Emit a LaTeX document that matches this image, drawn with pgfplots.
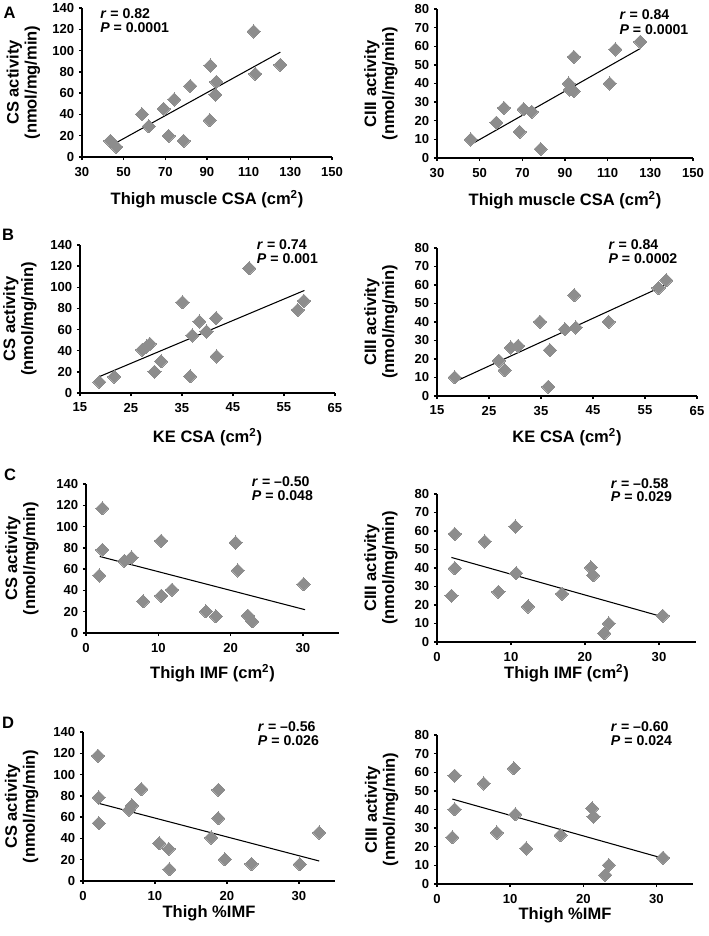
\documentclass[border=0pt]{standalone}
\usepackage{fontspec}
\setmainfont{Liberation Sans}
\usepackage{pgfplots}
\pgfplotsset{compat=1.18}
\definecolor{diam}{RGB}{141,141,141}
\pgfplotsset{
  panel/.style={
    scale only axis, anchor=south west,
    axis lines*=left,
    axis line style={line width=1.1pt,black},
    every tick/.style={line width=1.1pt,black},
    tick align=outside, major tick length=2.4pt,
    tick label style={font=\fontsize{9.8}{11}\selectfont\bfseries},
    /pgf/number format/assume math mode=true,
    xticklabel style={yshift=-1.5pt},
    label style={font=\fontsize{12.4}{13.5}\selectfont\bfseries},
    ymin=0, clip=false,
  },
  dots/.style={only marks, mark=square*, mark size=3.5pt,
    mark options={rotate=45, fill=diam, draw=diam, line width=0pt}},
  fit/.style={black, line width=0.8pt, no marks},
}
\newcommand\ann[3]{\node[anchor=west,inner sep=0pt,font=\fontsize{10.6}{12}\selectfont\bfseries] at ({#1*0.75pt},{(936-#2)*0.75pt}) {#3};}
\newcommand\letter[3]{\node[inner sep=0pt,font=\fontsize{12.4}{13}\selectfont\bfseries] at ({#1*0.75pt},{(936-#2)*0.75pt}) {#3};}
\newcommand\rr{\textbf{\textit{r}}}
\newcommand\PP{\textbf{\textit{P}}}
\begin{document}
\begin{tikzpicture}
\useasboundingbox (0,0) rectangle (531.75pt,702pt);
% ---------- A left
\begin{axis}[panel, width=187.5pt, height=111.75pt, at={(61.5pt,584.25pt)},
  xmin=30, xmax=150, xtick={30,50,...,150}, ymax=140, ytick={0,20,...,140},
  xlabel={Thigh muscle CSA (cm\textsuperscript{2})}, ylabel={CS activity\\(nmol/mg/min)},
  xlabel style={at={([yshift=-31.5pt]axis description cs:0.5,0)}, anchor=center},
  ylabel style={align=center, at={([xshift=-43.9pt]axis description cs:0,0.5)}, anchor=center}]
\addplot[dots] coordinates {(43.6,15.1)(46.5,9.4)(58.8,40.3)(62,28.9)(69.2,45.3)(71.6,19.8)(74.3,54.1)(78.8,15.1)(82,66.7)(91.6,85.9)(91.3,34.6)(94.5,70.5)(94,58.5)(112.4,118)(113.2,78)(125.2,86.5)};
\addplot[fit] coordinates {(43.6,10.4)(125.2,98.5)};
\end{axis}
% ---------- A right
\begin{axis}[panel, width=192pt, height=111.75pt, at={(327.75pt,583.5pt)},
  xmin=30, xmax=150, xtick={30,50,...,150}, ymax=80, ytick={0,10,...,80},
  xlabel={Thigh muscle CSA (cm\textsuperscript{2})}, ylabel={CIII activity\\(nmol/mg/min)},
  xlabel style={at={([yshift=-31.5pt]axis description cs:0.5,0)}, anchor=center},
  ylabel style={align=center, at={([xshift=-42pt]axis description cs:0,0.5)}, anchor=center}]
\addplot[dots] coordinates {(45.8,9.9)(57.8,19)(61.4,26.9)(68.75,14)(70.6,26.2)(74.4,24.8)(78.6,4.8)(91.7,40)(92.2,36.8)(94.1,35.9)(94.2,54.3)(111,40)(113.6,58.3)(125.3,62.4)};
\addplot[fit] coordinates {(45.8,7.2)(125.3,58.8)};
\end{axis}
% ---------- B left
\begin{axis}[panel, width=191.25pt, height=111pt, at={(60pt,407.25pt)},
  xmin=15, xmax=65, xtick={15,25,...,65}, ymax=140, ytick={0,20,...,140},
  xlabel={KE CSA (cm\textsuperscript{2})}, ylabel={CS activity\\(nmol/mg/min)},
  xlabel style={at={([yshift=-33pt]axis description cs:0.5,0)}, anchor=center},
  ylabel style={align=center, at={([xshift=-45pt]axis description cs:0,0.5)}, anchor=center}]
\addplot[dots] coordinates {(18.8,10.4)(21.7,15.4)(27.2,40.9)(28.1,44)(28.7,46.6)(29.6,20.1)(30.9,29.9)(35.1,85.9)(36.6,15.7)(37,54.4)(38.4,67.6)(39.8,58.2)(41.7,70.8)(41.8,34.6)(48.2,118)(57.7,78.6)(58.9,87.1)};
\addplot[fit] coordinates {(18.8,15.5)(59,97)};
\end{axis}
% ---------- B right
\begin{axis}[panel, width=195pt, height=111pt, at={(327.75pt,405pt)},
  xmin=15, xmax=65, xtick={15,25,...,65}, ymax=80, ytick={0,10,...,80},
  xlabel={KE CSA (cm\textsuperscript{2})}, ylabel={CIII activity\\(nmol/mg/min)},
  xlabel style={at={([yshift=-31.1pt]axis description cs:0.5,0)}, anchor=center},
  ylabel style={align=center, at={([xshift=-42pt]axis description cs:0,0.5)}, anchor=center}]
\addplot[dots] coordinates {(18.4,10.1)(26.9,19.1)(28,14)(29.2,26.2)(30.6,27.1)(34.8,40.1)(36.4,5)(36.7,24.8)(39.6,36.1)(41.4,54.5)(41.7,37)(48,40.1)(57.6,58.4)(59.1,62.6)};
\addplot[fit] coordinates {(18.4,7.7)(59.1,60.2)};
\end{axis}
% ---------- C left
\begin{axis}[panel, width=189.75pt, height=111.75pt, at={(64.5pt,227.25pt)},
  xmin=0, xmax=35, xtick={0,10,20,30}, ymax=140, ytick={0,20,...,140},
  xlabel={Thigh IMF (cm\textsuperscript{2})}, ylabel={CS activity\\(nmol/mg/min)},
  xlabel style={at={([yshift=-30.4pt]axis description cs:0.5,0)}, anchor=center},
  ylabel style={align=center, at={([xshift=-48pt]axis description cs:0,0.5)}, anchor=center}]
\addplot[dots] coordinates {(1.84,54)(2.26,117.2)(2.26,78.1)(5.3,67.8)(6.3,70.9)(7.9,29.7)(10.4,86.6)(10.4,35)(11.9,40.6)(16.6,20.3)(17.97,15.6)(20.7,85)(21,58.8)(22.4,16.3)(23,10.9)(30.1,45.9)};
\addplot[fit] coordinates {(1.9,71.9)(30.3,21.9)};
\end{axis}
% ---------- C right
\begin{axis}[panel, width=194.25pt, height=111pt, at={(327.75pt,220.5pt)},
  xmin=0, xmax=35, xtick={0,10,20,30}, ymax=80, ytick={0,10,...,80},
  xlabel={Thigh IMF (cm\textsuperscript{2})}, ylabel={CIII activity\\(nmol/mg/min)},
  xlabel style={at={([yshift=-23.6pt]axis description cs:0.5,0)}, anchor=center},
  ylabel style={align=center, at={([xshift=-42pt]axis description cs:0,0.5)}, anchor=center}]
\addplot[dots] coordinates {(1.95,25)(2.4,58.4)(2.4,39.9)(6.45,54.3)(8.3,27.1)(10.6,62.4)(10.7,37.2)(12.3,19.2)(16.9,26.1)(20.8,40.3)(21.1,36)(22.6,4.7)(23.2,10)(30.5,14.2)};
\addplot[fit] coordinates {(1.95,45.7)(30.5,13.6)};
\end{axis}
% ---------- D left
\begin{axis}[panel, width=189pt, height=111.75pt, at={(62.25pt,41.25pt)},
  xmin=0, xmax=35, xtick={0,10,20,30}, ymax=140, ytick={0,20,...,140},
  xlabel={Thigh \%IMF}, ylabel={CS activity\\(nmol/mg/min)},
  xlabel style={at={([yshift=-24pt]axis description cs:0.5,0)}, anchor=center},
  ylabel style={align=center, at={([xshift=-46pt]axis description cs:0,0.5)}, anchor=center}]
\addplot[dots] coordinates {(2.08,117.7)(2.18,78.5)(2.2,54.3)(6.4,66.9)(6.8,70.9)(8.1,86.3)(10.6,35.5)(11.9,30.1)(12,11)(17.8,40.8)(18.8,85.7)(18.8,59)(19.7,20.4)(23.4,16)(30.1,15.7)(32.8,45.5)};
\addplot[fit] coordinates {(2.1,73.1)(32.8,18.8)};
\end{axis}
% ---------- D right
\begin{axis}[panel, width=192pt, height=111.75pt, at={(327.75pt,39pt)},
  xmin=0, xmax=35, xtick={0,10,20,30}, ymax=80, ytick={0,10,...,80},
  xlabel={Thigh \%IMF}, ylabel={CIII activity\\(nmol/mg/min)},
  xlabel style={at={([yshift=-23.3pt]axis description cs:0.5,0)}, anchor=center},
  ylabel style={align=center, at={([xshift=-41.6pt]axis description cs:0,0.5)}, anchor=center}]
\addplot[dots] coordinates {(2.1,25.1)(2.4,58.2)(2.4,40.1)(6.4,54)(8.2,27.6)(10.5,62.1)(10.7,37.4)(12.2,19.1)(16.9,26.3)(21.2,40.6)(21.4,36.2)(23,4.8)(23.5,10.2)(30.9,14.1)};
\addplot[fit] coordinates {(2.1,45.6)(30.9,13.8)};
\end{axis}
% ---------- annotations
\ann{100}{13.3}{\rr{} = 0.82}
\ann{100}{27.7}{\PP{} = 0.0001}
\ann{619.3}{15}{\rr{} = 0.84}
\ann{619.3}{30}{\PP{} = 0.0001}
\ann{256.7}{245}{\rr{} = 0.74}
\ann{256.7}{258.3}{\PP{} = 0.001}
\ann{608.3}{245}{\rr{} = 0.84}
\ann{608.3}{259}{\PP{} = 0.0002}
\ann{251.7}{482}{\rr{} = \textendash0.50}
\ann{251.7}{495.3}{\PP{} = 0.048}
\ann{610.7}{483.3}{\rr{} = \textendash0.58}
\ann{610.7}{497}{\PP{} = 0.029}
\ann{257.7}{726.7}{\rr{} = \textendash0.56}
\ann{257.7}{740.3}{\PP{} = 0.026}
\ann{610.7}{726.7}{\rr{} = \textendash0.60}
\ann{610.7}{740.3}{\PP{} = 0.024}
\letter{9.5}{12.5}{A}
\letter{8}{235}{B}
\letter{10}{475}{C}
\letter{8}{723}{D}
\end{tikzpicture}
\end{document}
